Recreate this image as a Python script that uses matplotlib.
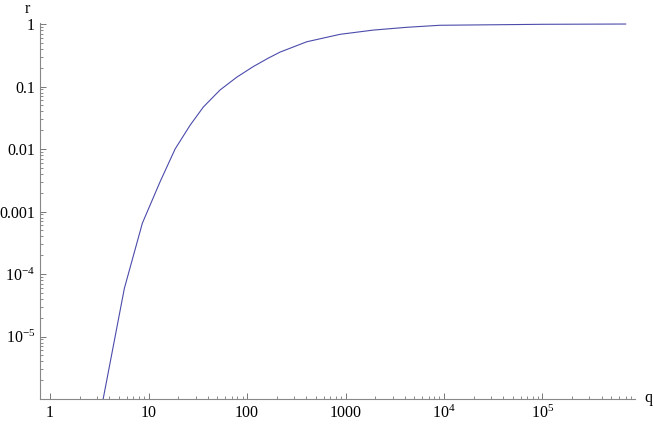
import numpy as np
import matplotlib
matplotlib.use('Agg')
import matplotlib.pyplot as plt
from matplotlib.ticker import FixedLocator, NullFormatter

# values
q = [3.3, 5.68, 8.65, 13.1, 18.6, 26.4, 36.0, 53.2, 78.6, 116, 164, 216, 404, 879, 1915, 4180, 9100, 1e5, 7e5]
r = [6.8e-7, 5.9e-5, 6.5e-4, 3.0e-3, 0.0100, 0.0240, 0.0470, 0.088, 0.141, 0.209, 0.284, 0.355, 0.52, 0.684, 0.80, 0.886, 0.955, 0.99, 1.0]

xticks = [1, 10, 100, 1000, 1e4, 1e5]
xlabels = ['1', '10', '100', '1000', r'$10^4$', r'$10^5$']
yticks = [1, 0.1, 0.01, 0.001, 1e-4, 1e-5]
ylabels = ['1', '0.1', '0.01', '0.001', r'$10^{-4}$', r'$10^{-5}$']

plt.rcParams['font.family'] = ['Liberation Serif', 'DejaVu Serif']
plt.rcParams['mathtext.fontset'] = 'custom'
plt.rcParams['mathtext.rm'] = 'Liberation Serif'
plt.rcParams['mathtext.it'] = 'Liberation Serif:italic'

W, H = 654, 424
fig = plt.figure(figsize=(W / 100, H / 100), dpi=100)
x0, x1, y0, y1 = 40, 635, 399, 22.7
ax = fig.add_axes([x0 / W, (H - y0) / H, (x1 - x0) / W, (y0 - y1) / H])

ax.plot(q, r, color='#4b4bab', lw=0.8)
ax.set_xscale('log')
ax.set_yscale('log')
ax.set_xlim(0.79, 8.7e5)
ax.set_ylim(1e-6, 1.05)

for s in ['top', 'right']:
    ax.spines[s].set_visible(False)
for s in ['left', 'bottom']:
    ax.spines[s].set_color('#888888')
    ax.spines[s].set_linewidth(0.8)

ax.set_xticks(xticks)
ax.set_xticklabels(xlabels)
ax.set_yticks(yticks)
ax.set_yticklabels(ylabels)

xminor = [m * 10.0 ** e for e in range(0, 6) for m in range(2, 10) if m * 10.0 ** e < 8.7e5]
yminor = [m * 10.0 ** e for e in range(-6, 0) for m in range(2, 10)]
ax.xaxis.set_minor_locator(FixedLocator(xminor))
ax.yaxis.set_minor_locator(FixedLocator(yminor))
ax.xaxis.set_minor_formatter(NullFormatter())
ax.yaxis.set_minor_formatter(NullFormatter())

ax.tick_params(which='major', direction='in', length=4, width=0.7, color='#777777',
               labelsize=11.5, labelcolor='black')
ax.tick_params(which='minor', direction='in', length=2.2, width=0.6, color='#777777')
ax.tick_params(axis='y', which='major', pad=3.5)
ax.tick_params(axis='x', which='major', pad=4)

fig.text(27 / W, (H - 9) / H, 'r', fontsize=11.5, ha='center', va='center')
fig.text(648 / W, (H - 398) / H, 'q', fontsize=11.5, ha='center', va='center')

fig.savefig('out.png', dpi=100)
